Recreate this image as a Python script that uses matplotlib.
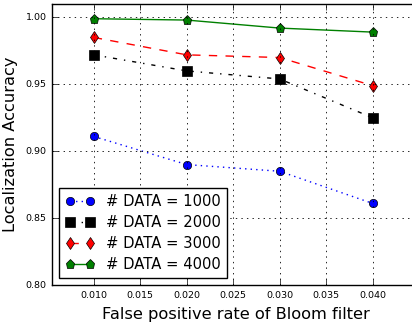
import matplotlib
matplotlib.use("Agg")
import matplotlib.pyplot as plt

plt.style.use("classic")

fp_rate = [0.010, 0.020, 0.030, 0.040]
acc_1000 = [0.911, 0.890, 0.885, 0.861]
acc_2000 = [0.972, 0.960, 0.954, 0.925]
acc_3000 = [0.985, 0.972, 0.970, 0.949]
acc_4000 = [0.999, 0.998, 0.992, 0.989]
series_labels = ["# DATA = 1000", "# DATA = 2000", "# DATA = 3000", "# DATA = 4000"]
x_ticks = [0.010, 0.015, 0.020, 0.025, 0.030, 0.035, 0.040]
y_ticks = [0.80, 0.85, 0.90, 0.95, 1.00]

fig = plt.figure(figsize=(4.12, 3.23), dpi=100, facecolor="white")
ax = fig.add_axes([52 / 412, 38 / 323, 367 / 412, 281 / 323])
ax.set_facecolor("white")

ax.plot(fp_rate, acc_1000, color="blue", linestyle=":", marker="o",
        markersize=6, linewidth=1, label=series_labels[0])
ax.plot(fp_rate, acc_2000, color="black", linestyle="-.", marker="s",
        markersize=6.5, linewidth=1, label=series_labels[1])
ax.plot(fp_rate, acc_3000, color="red", linestyle="--", marker="d",
        markersize=6, linewidth=1, label=series_labels[2])
ax.plot(fp_rate, acc_4000, color="green", linestyle="-", marker="p",
        markersize=6.5, linewidth=1, label=series_labels[3])

ax.set_xlim(0.0055, 0.045)
ax.set_ylim(0.80, 1.01)
ax.set_xticks(x_ticks)
ax.set_yticks(y_ticks)
ax.set_xticklabels(["%.3f" % v for v in x_ticks])
ax.set_yticklabels(["%.2f" % v for v in y_ticks])
ax.tick_params(labelsize=6.8, direction="in")
ax.grid(True, linestyle=":", color="black", linewidth=0.6)

ax.set_xlabel("False positive rate of Bloom filter", fontsize=11.7)
ax.set_ylabel("Localization Accuracy", fontsize=11.7)

ax.legend(loc="lower left", numpoints=2, fontsize=10.6, fancybox=False,
          labelspacing=0.4)

fig.savefig("out.png", dpi=100, facecolor="white")
